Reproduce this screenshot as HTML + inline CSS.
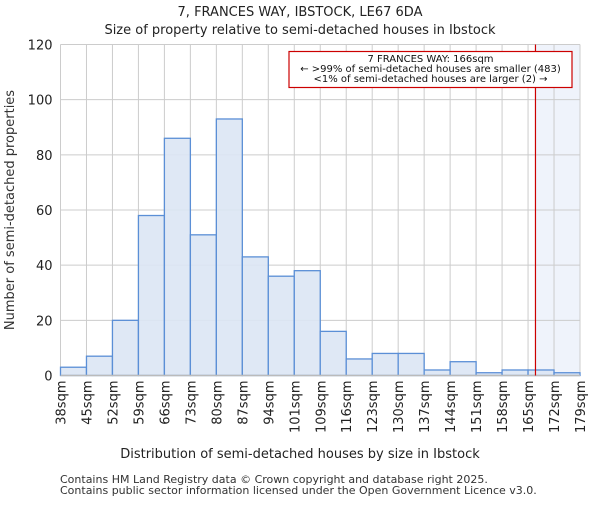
<!DOCTYPE html>
<html><head><meta charset="utf-8"><style>
body{margin:0;background:#fff}
svg{font-family:"DejaVu Sans","Liberation Sans",sans-serif}
</style></head><body>
<svg id="c" width="600" height="500" viewBox="0 0 600 500">
<text x="300" y="16" text-anchor="middle" font-size="13" fill="#222">7, FRANCES WAY, IBSTOCK, LE67 6DA</text>
<text x="300" y="34" text-anchor="middle" font-size="13" fill="#222">Size of property relative to semi-detached houses in Ibstock</text>
<g id="plot"></g>
<text x="300" y="458" text-anchor="middle" font-size="13" fill="#222">Distribution of semi-detached houses by size in Ibstock</text>
<text transform="translate(14,210) rotate(-90)" text-anchor="middle" font-size="13" fill="#333">Number of semi-detached properties</text>
<text x="60" y="483" font-size="11" fill="#333">Contains HM Land Registry data © Crown copyright and database right 2025.</text>
<text x="60" y="494" font-size="11" fill="#333">Contains public sector information licensed under the Open Government Licence v3.0.</text>
</svg>
<script>
const categories=["38sqm","45sqm","52sqm","59sqm","66sqm","73sqm","80sqm","87sqm","94sqm","101sqm","109sqm","116sqm","123sqm","130sqm","137sqm","144sqm","151sqm","158sqm","165sqm","172sqm","179sqm"];
const counts=[3,7,20,58,86,51,93,43,36,38,16,6,8,8,2,5,1,2,2,1];
const yTicks=[0,20,40,60,80,100,120];
const binStarts=[38,45,52,59,66,73,80,87,94,101,108,115,122,129,136,143,150,157,164,171];
const markerSize=166;
const ns="http://www.w3.org/2000/svg";
const L=60.5,R=580,T=44.5,B=375.5;
const nb=counts.length;
const bw=(R-L)/nb;
const x=i=>L+i*bw;
const y=v=>B-(v/120)*(B-T);
const xs=s=>{ // size -> px using bin starts
  for(let i=0;i<nb;i++){const a=binStarts[i],b=i+1<nb?binStarts[i+1]:a+7;if(s<b)return x(i)+(s-a)/(b-a)*bw;}
  return R;};
const g=document.getElementById('plot');
function mk(t,a){const e=document.createElementNS(ns,t);for(const k in a)e.setAttribute(k,a[k]);g.appendChild(e);return e;}
const mx=xs(markerSize);
let e=mk('rect',{x:mx,y:T,width:R-mx,height:B-T,fill:'#eff3fb'});


yTicks.forEach(v=>{const l=mk('line',{x1:L,x2:R,y1:y(v),y2:y(v),stroke:'#ccc'});


const t=mk('text',{x:L-8,y:y(v)+5,'text-anchor':'end','font-size':13,fill:'#222'});t.textContent=v;

});
categories.forEach((c,i)=>{const l=mk('line',{x1:x(i),x2:x(i),y1:T,y2:B,stroke:'#ccc'});


const t=mk('text',{transform:`translate(${x(i)+5},${B+5}) rotate(-90)`,'text-anchor':'end','font-size':13,fill:'#222'});t.textContent=c;

});
counts.forEach((v,i)=>{const r=mk('rect',{x:x(i),y:y(v),width:bw,height:B-y(v),fill:'#dce6f4','fill-opacity':0.9,stroke:'#5b8fd6','stroke-width':1.3});

});
const ax=mk('line',{x1:L,x2:R,y1:B,y2:B,stroke:'#bbb','stroke-width':1.5});


const ml=mk('line',{x1:mx,x2:mx,y1:T,y2:B,stroke:'#cc0000','stroke-width':1.2});


const bx=mk('rect',{x:289,y:51.5,width:283,height:36,fill:'#fff',stroke:'#cc0000','stroke-width':1.2});


["7 FRANCES WAY: 166sqm","← >99% of semi-detached houses are smaller (483)","<1% of semi-detached houses are larger (2) →"].forEach((s,k)=>{
const t=mk('text',{x:430.5,y:62+k*10,'text-anchor':'middle','font-size':10,fill:'#111'});t.textContent=s;

});
</script>
</body></html>
